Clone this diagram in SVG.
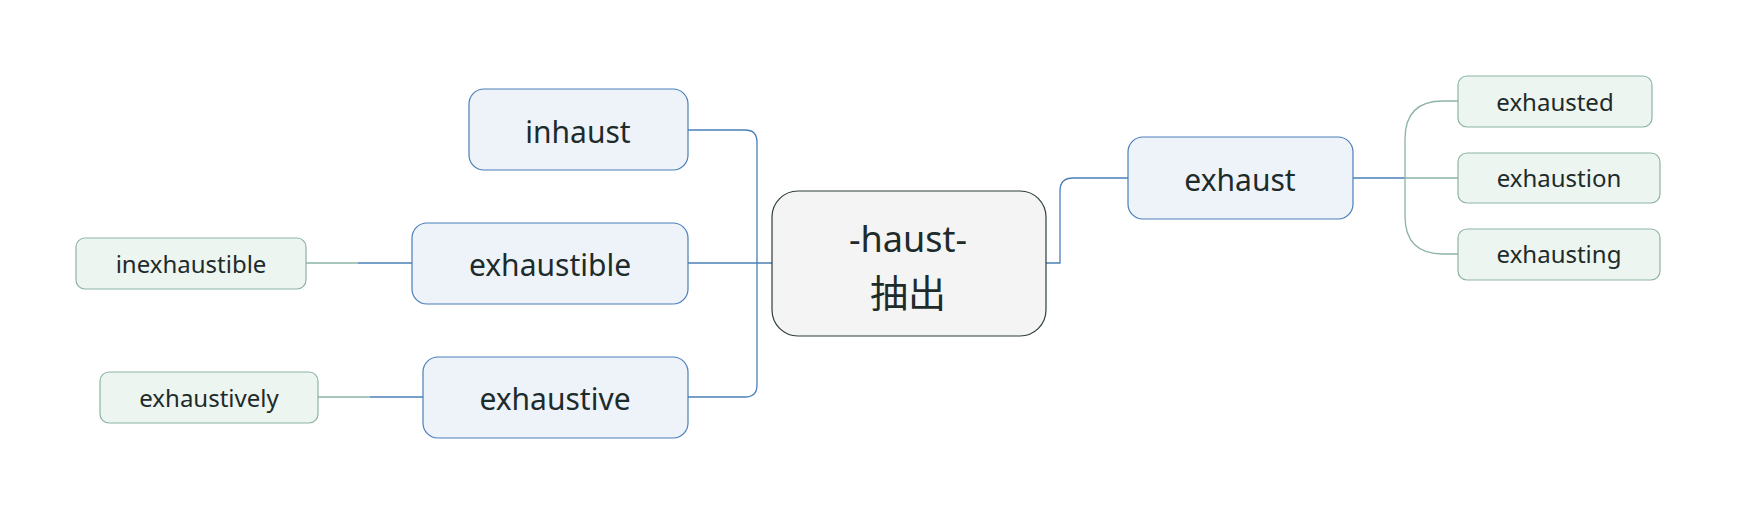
<svg xmlns="http://www.w3.org/2000/svg" width="1737" height="514" viewBox="0 0 1737 514">
<style>
text{font-family:"Noto Sans","Open Sans","Noto Sans CJK SC",sans-serif;fill:#1d2b2b;text-anchor:middle}
.main rect{fill:#f4f4f4;stroke:#2e3d3d;stroke-width:1.2}
.l1 rect{fill:#eef3f9;stroke:#4a7fb8;stroke-width:1.2}
.l2 rect{fill:#edf5f0;stroke:#8db3a6;stroke-width:1.2}
.l1 text{font-size:30px}
.l2 text{font-size:24px}
.blue{fill:none;stroke:#4a7fb8;stroke-width:1.3}
.teal{fill:none;stroke:#8db3a6;stroke-width:1.3}
</style>
<rect width="1737" height="514" fill="#ffffff"/>
<g id="connectors">
<path class="blue" d="M688,130 H745 Q757,130 757,142 V385 Q757,397 745,397 H688"/>
<path class="blue" d="M688,263 H772"/>
<path class="teal" d="M306,263 H358"/>
<path class="blue" d="M358,263 H412"/>
<path class="teal" d="M318,397 H370"/>
<path class="blue" d="M370,397 H423"/>
<path class="blue" d="M1046,263 H1060 V191 Q1060,178 1073,178 H1128"/>
<path class="blue" d="M1353,178 H1405"/>
<path class="teal" d="M1405,178 H1458"/>
<path class="teal" d="M1458,101 H1443 Q1405,101 1405,139 V216 Q1405,254 1443,254 H1458"/>
</g>
<g id="center" class="main">
<rect x="772" y="191" width="274" height="145" rx="26"/>
<text x="908" y="252" style="font-size:36px">-haust-</text>
<text x="908" y="307" style="font-size:38px;font-family:'Noto Sans CJK SC',sans-serif">抽出</text>
</g>
<g id="inhaust" class="l1">
<rect x="469" y="89" width="219" height="81" rx="15"/>
<text x="578" y="143">inhaust</text>
</g>
<g id="exhaustible" class="l1">
<rect x="412" y="223" width="276" height="81" rx="15"/>
<text x="550" y="276">exhaustible</text>
</g>
<g id="exhaustive" class="l1">
<rect x="423" y="357" width="265" height="81" rx="15"/>
<text x="555" y="410">exhaustive</text>
</g>
<g id="exhaust" class="l1">
<rect x="1128" y="137" width="225" height="82" rx="15"/>
<text x="1240" y="191">exhaust</text>
</g>
<g id="inexhaustible" class="l2">
<rect x="76" y="238" width="230" height="51" rx="9"/>
<text x="191" y="273">inexhaustible</text>
</g>
<g id="exhaustively" class="l2">
<rect x="100" y="372" width="218" height="51" rx="9"/>
<text x="209" y="407">exhaustively</text>
</g>
<g id="exhausted" class="l2">
<rect x="1458" y="76" width="194" height="51" rx="9"/>
<text x="1555" y="111">exhausted</text>
</g>
<g id="exhaustion" class="l2">
<rect x="1458" y="153" width="202" height="50" rx="9"/>
<text x="1559" y="187">exhaustion</text>
</g>
<g id="exhausting" class="l2">
<rect x="1458" y="229" width="202" height="51" rx="9"/>
<text x="1559" y="263">exhausting</text>
</g>
</svg>
